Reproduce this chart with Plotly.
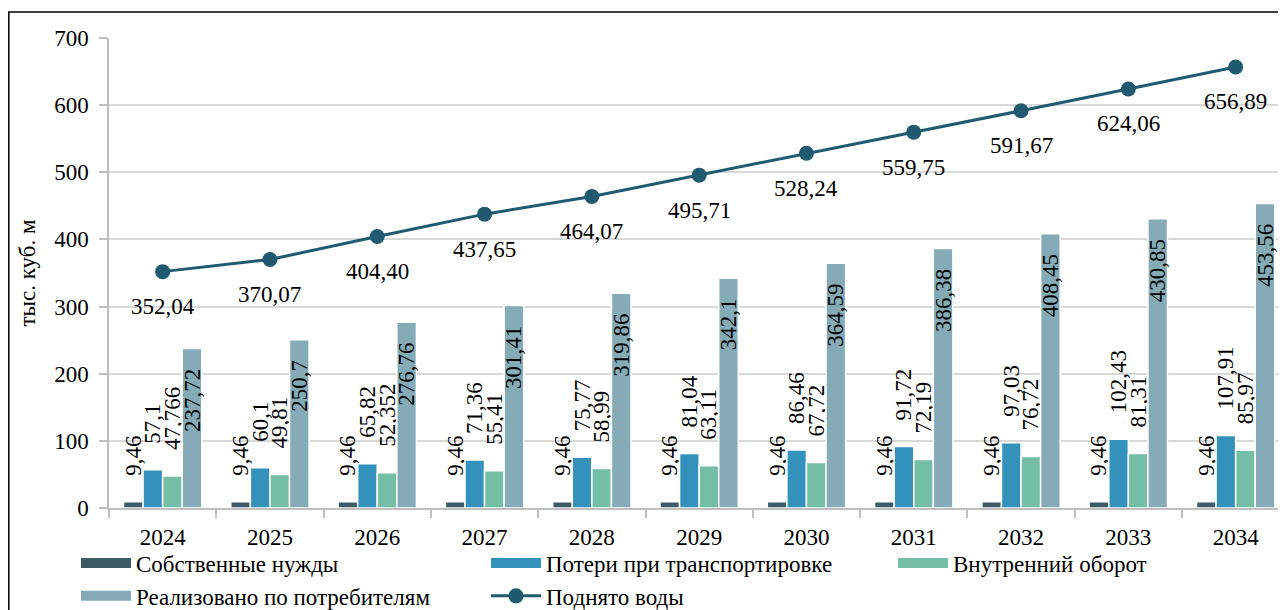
import plotly.graph_objects as go

# Годы и значения, тыс. куб. м
years = ["2024", "2025", "2026", "2027", "2028", "2029", "2030", "2031", "2032", "2033", "2034"]
own_needs = [9.46, 9.46, 9.46, 9.46, 9.46, 9.46, 9.46, 9.46, 9.46, 9.46, 9.46]
losses = [57.1, 60.1, 65.82, 71.36, 75.77, 81.04, 86.46, 91.72, 97.03, 102.43, 107.91]
internal = [47.766, 49.81, 52.352, 55.41, 58.99, 63.11, 67.72, 72.19, 76.72, 81.31, 85.97]
sold = [237.72, 250.7, 276.76, 301.41, 319.86, 342.1, 364.59, 386.38, 408.45, 430.85, 453.56]
lifted = [352.04, 370.07, 404.40, 437.65, 464.07, 495.71, 528.24, 559.75, 591.67, 624.06, 656.89]

names = ["Собственные нужды", "Потери при транспортировке", "Внутренний оборот",
         "Реализовано по потребителям", "Поднято воды"]
colors = ["#3d5b64", "#3391bb", "#73bea5", "#84abb6", "#1f5a70"]

FONT = "Liberation Serif"
FS = 23
NB = "\u00a0"

# the page body adds an 8px margin; the figure runs past the window on the right/bottom
# (the reference is cropped the same way), so the legend never pushes the margins
W, H = 1278, 640
L, R, T, B = 101, 1278, 30, 500
CAT_W = 107.3


def px_x(x):
    return (x - L) / (R - L)


def px_y(y):
    return (B - y) / (B - T)


def comma(v):
    return str(v).replace(".", ",")


fig = go.Figure()

bar_series = [own_needs, losses, internal]
for i, vals in enumerate(bar_series):
    fig.add_trace(go.Bar(
        x=years, y=vals, name=names[i], marker=dict(color=colors[i], line=dict(color="white", width=1.5)),
        text=[NB * 4 + comma(v) for v in vals], textposition="outside", textangle=-90,
        textfont=dict(family=FONT, size=FS, color="black"), constraintext="none",
        cliponaxis=False, showlegend=False,
    ))

fig.add_trace(go.Bar(
    x=years, y=sold, name=names[3], marker=dict(color=colors[3], line=dict(color="white", width=1.5)),
    text=[comma(v) + NB * 3 + "\u200b" for v in sold], textposition="inside", insidetextanchor="end",
    textangle=-90, textfont=dict(family=FONT, size=FS, color="black"), constraintext="none",
    showlegend=False,
))

fig.add_trace(go.Scatter(
    x=years, y=lifted, name=names[4], mode="lines+markers",
    line=dict(color=colors[4], width=3), marker=dict(size=15, color=colors[4]),
    legend="legend2", legendrank=2,
))

for i, v in enumerate(lifted):
    fig.add_annotation(x=i, y=v, text=f"{v:.2f}".replace(".", ","), showarrow=False,
                       yshift=-35, font=dict(family=FONT, size=FS, color="black"))

# legend entries drawn as wide swatches
legend_of = {0: "legend", 1: "legend2", 2: "legend3", 3: "legend"}
for i in [0, 3, 1, 2]:
    fig.add_trace(go.Scatter(
        x=[None], y=[None], mode="lines", name=names[i],
        line=dict(color=colors[i], width=10), legend=legend_of[i], legendrank=1 if i != 3 else 2,
    ))

legend_common = dict(font=dict(family=FONT, size=FS, color="black"), bgcolor="rgba(0,0,0,0)",
                     orientation="v", yanchor="top", xanchor="left", traceorder="normal",
                     itemwidth=50, itemclick=False, itemdoubleclick=False)
leg_y = px_y(533.5)

fig.update_layout(
    width=W, height=H,
    margin=dict(l=L, r=W - R, t=T, b=H - B),
    paper_bgcolor="white", plot_bgcolor="white",
    font=dict(family=FONT, size=FS, color="black"),
    barmode="group", bargap=0.27, bargroupgap=0,
    uniformtext=dict(minsize=FS, mode="show"),
    legend=dict(x=px_x(68), y=leg_y, **legend_common),
    legend2=dict(x=px_x(478), y=leg_y, **legend_common),
    legend3=dict(x=px_x(885), y=leg_y, **legend_common),
    xaxis=dict(
        type="category", range=[-0.5, -0.5 + (R - L) / CAT_W], automargin=False,
        showline=True, linecolor="#bfbfbf", linewidth=1.5,
        ticks="outside", tickson="boundaries", ticklen=8, tickcolor="#bfbfbf", tickwidth=1.5,
        ticklabelstandoff=8, showgrid=False,
        tickfont=dict(family=FONT, size=FS, color="black"),
    ),
    yaxis=dict(
        range=[0, 700], dtick=100, automargin=False,
        showline=True, linecolor="#bfbfbf", linewidth=1.5,
        ticks="outside", ticklen=8, tickcolor="#bfbfbf", tickwidth=1.5,
        ticklabelstandoff=6,
        gridcolor="#d9d9d9", gridwidth=1.5, zeroline=False,
        tickfont=dict(family=FONT, size=FS, color="black"),
        title=dict(text="тыс. куб. м", font=dict(family=FONT, size=FS, color="black"), standoff=12),
    ),
    shapes=[dict(type="rect", xref="paper", yref="paper",
                 x0=px_x(0.8), x1=px_x(1300), y0=px_y(660), y1=px_y(4),
                 line=dict(color="black", width=1.5), layer="below")],
)

fig.write_html("out.html")
